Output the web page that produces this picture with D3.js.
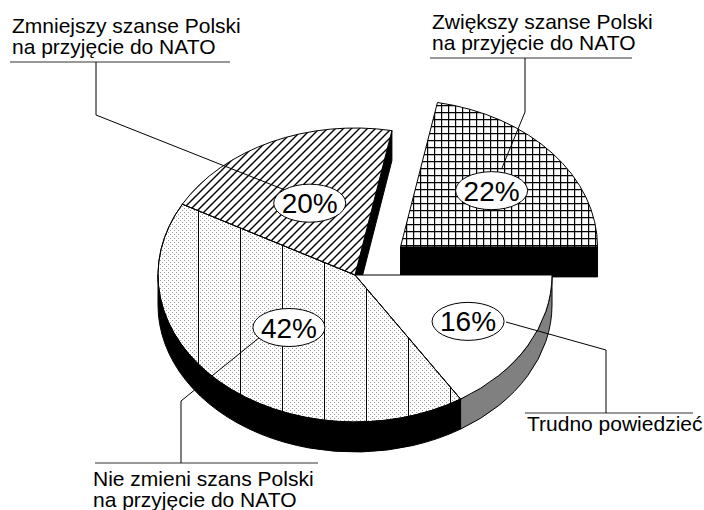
<!DOCTYPE html>
<html>
<head>
<meta charset="utf-8">
<script src="https://cdn.jsdelivr.net/npm/d3@7"></script>
<style>
  body { margin: 0; background: #fff; }
  text { font-family: "Liberation Sans", Arial, sans-serif; fill: #000; }
</style>
</head>
<body>
<svg id="chart"></svg>
<script>
// data, in drawing order (clockwise from 3 o'clock)
const categories = [
  ['Trudno powiedzieć'],
  ['Nie zmieni szans Polski', 'na przyjęcie do NATO'],
  ['Zmniejszy szanse Polski', 'na przyjęcie do NATO'],
  ['Zwiększy szanse Polski', 'na przyjęcie do NATO'],
];
const values = [16, 42, 20, 22];
const exploded = [0, 0, 0, 0.3];

// styles
const topFills = ['#fff', 'url(#dots)', 'url(#hatch)', 'url(#grid)'];
const wallFills = ['#808080', '#000', '#000', '#000'];
const pctRadius = [0.655, 0.49, 0.54, 0.6];

// callout layout: text anchor, underline, leader
const callouts = [
  { x: 527, y: 431, line: [525, 693, 413], leader: [[606, 413], [606, 350], [506, 322]] },
  { x: 93, y: 486, line: [95, 318, 463], leader: [[181, 463], [181, 401], [260, 337]] },
  { x: 12, y: 33, line: [10, 230, 62], leader: [[96, 62], [96, 115], [285, 190]] },
  { x: 432, y: 29, line: [430, 632, 58], leader: [[525, 58], [525, 112], [502, 168]] },
];

const width = 704;
const height = 510;
const cx = 355, cy = 275, rx = 197, ry = 147, depth = 30;

const svg = d3.select('#chart')
  .attr('width', width)
  .attr('height', height);

/** patterns */
const defs = svg.append('defs');

const dots = defs.append('pattern')
  .attr('id', 'dots').attr('patternUnits', 'userSpaceOnUse')
  .attr('width', 4).attr('height', 4);
dots.append('rect').attr('width', 4).attr('height', 4).attr('fill', '#fff');
dots.append('rect').attr('x', 0).attr('y', 0).attr('width', 1).attr('height', 1).attr('fill', '#9a9a9a');
dots.append('rect').attr('x', 2).attr('y', 2).attr('width', 1).attr('height', 1).attr('fill', '#9a9a9a');

const vlines = defs.append('pattern')
  .attr('id', 'vlines').attr('patternUnits', 'userSpaceOnUse')
  .attr('x', 198).attr('width', 42).attr('height', 8);
vlines.append('line').attr('x1', 0.5).attr('x2', 0.5).attr('y1', 0).attr('y2', 8)
  .attr('stroke', '#000').attr('stroke-width', 1);

const hatch = defs.append('pattern')
  .attr('id', 'hatch').attr('patternUnits', 'userSpaceOnUse')
  .attr('width', 8).attr('height', 8);
hatch.append('rect').attr('width', 8).attr('height', 8).attr('fill', '#fff');
hatch.append('path').attr('d', 'M0,8L8,0M-2,2L2,-2M6,10L10,6')
  .attr('stroke', '#000').attr('stroke-width', 1.4);

const grid = defs.append('pattern')
  .attr('id', 'grid').attr('patternUnits', 'userSpaceOnUse')
  .attr('width', 7).attr('height', 7);
grid.append('rect').attr('width', 7).attr('height', 7).attr('fill', '#fff');
grid.append('path').attr('d', 'M0.6,0V7M0,0.6H7')
  .attr('stroke', '#000').attr('stroke-width', 1.2);

/** pie angles: d3 angles run clockwise from 12 o'clock */
const pie = d3.pie().sort(null).startAngle(Math.PI / 2).endAngle(Math.PI / 2 + 2 * Math.PI);
const arcs = pie(values).map((a, i) => {
  const mid = (a.startAngle + a.endAngle) / 2;
  const k = exploded[i];
  return { ...a, i, dx: k * rx * Math.sin(mid), dy: -k * ry * Math.cos(mid) };
});

const pt = (a, ang, r = 1, down = 0) => [
  cx + a.dx + rx * r * Math.sin(ang),
  cy + a.dy - ry * r * Math.cos(ang) + down,
];

const topPath = (a) => {
  const s = pt(a, a.startAngle);
  const e = pt(a, a.endAngle);
  const large = a.endAngle - a.startAngle > Math.PI ? 1 : 0;
  return `M${cx + a.dx},${cy + a.dy}L${s}A${rx},${ry} 0 ${large} 1 ${e}Z`;
};

const wallPath = (a, s, e) => {
  const p0 = pt(a, s), p1 = pt(a, e);
  const q1 = pt(a, e, 1, depth), q0 = pt(a, s, 1, depth);
  return `M${p0}A${rx},${ry} 0 0 1 ${p1}L${q1}A${rx},${ry} 0 0 0 ${q0}Z`;
};

const facePath = (a, ang) => {
  const c = [cx + a.dx, cy + a.dy];
  const r = pt(a, ang);
  return `M${c}L${r}L${pt(a, ang, 1, depth)}L${c[0]},${c[1] + depth}Z`;
};

const g = svg.append('g');

// outer walls (front half only)
arcs.forEach((a) => {
  const s = Math.max(a.startAngle, Math.PI / 2);
  const e = Math.min(a.endAngle, 3 * Math.PI / 2);
  if (e > s) {
    g.append('path').attr('d', wallPath(a, s, e))
      .attr('fill', wallFills[a.i]).attr('stroke', '#000').attr('stroke-width', 1);
  }
});

// cut faces next to the exploded slice
const n = arcs.length;
arcs.forEach((a) => {
  const next = arcs[(a.i + 1) % n];
  const prev = arcs[(a.i + n - 1) % n];
  if ((exploded[a.i] || exploded[next.i]) && Math.sin(a.endAngle) > 0) {
    g.append('path').attr('d', facePath(a, a.endAngle)).attr('fill', '#000').attr('stroke', '#000');
  }
  if ((exploded[a.i] || exploded[prev.i]) && Math.sin(a.startAngle) < 0) {
    g.append('path').attr('d', facePath(a, a.startAngle)).attr('fill', '#000').attr('stroke', '#000');
  }
});

// top faces
g.selectAll('path.top')
  .data(arcs)
  .enter()
  .append('path')
  .attr('class', 'top')
  .attr('d', topPath)
  .attr('fill', (a) => topFills[a.i])
  .attr('stroke', '#000')
  .attr('stroke-width', 1);

// vertical rules over the stippled slice
g.append('path').attr('d', topPath(arcs[1])).attr('fill', 'url(#vlines)');
g.append('path').attr('d', topPath(arcs[1])).attr('fill', 'none')
  .attr('stroke', '#000').attr('stroke-width', 1);

/** callouts */
const cg = svg.append('g');
callouts.forEach((c, i) => {
  cg.append('line')
    .attr('x1', c.line[0]).attr('x2', c.line[1])
    .attr('y1', c.line[2]).attr('y2', c.line[2])
    .attr('stroke', '#333').attr('stroke-width', 1);
  cg.append('path').attr('d', d3.line()(c.leader))
    .attr('fill', 'none').attr('stroke', '#000').attr('stroke-width', 1);
  const t = cg.append('text').attr('x', c.x).attr('y', c.y).attr('font-size', 21);
  categories[i].forEach((s, j) => {
    t.append('tspan').attr('x', c.x).attr('dy', j ? 21 : 0).text(s);
  });
});

// percentage bubbles
const lg = svg.append('g');
arcs.forEach((a) => {
  const mid = (a.startAngle + a.endAngle) / 2;
  const [x, y] = pt(a, mid, pctRadius[a.i]);
  lg.append('ellipse').attr('cx', x).attr('cy', y).attr('rx', 36).attr('ry', 19)
    .attr('fill', '#fff').attr('stroke', '#000').attr('stroke-width', 1);
  lg.append('text').attr('x', x).attr('y', y).attr('dy', '0.36em')
    .attr('text-anchor', 'middle').attr('font-size', 28)
    .text(`${values[a.i]}%`);
});
</script>
</body>
</html>
